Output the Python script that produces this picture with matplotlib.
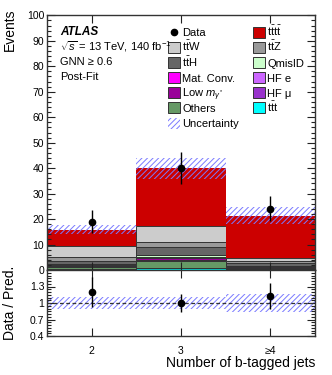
import matplotlib
matplotlib.use('Agg')
import matplotlib.pyplot as plt
import numpy as np
from matplotlib.patches import Rectangle
from matplotlib.ticker import MultipleLocator

plt.rcParams['font.family'] = ['Liberation Sans', 'DejaVu Sans']
plt.rcParams['mathtext.fontset'] = 'custom'
plt.rcParams['mathtext.rm'] = 'Liberation Sans'
plt.rcParams['mathtext.it'] = 'Liberation Sans:italic'
plt.rcParams['mathtext.bf'] = 'Liberation Sans:bold'
plt.rcParams['hatch.linewidth'] = 0.7

# bins: number of b-tagged jets
bins = [2, 3, 4]
bin_labels = ['2', '3', '≥4']

# stacked backgrounds, bottom -> top
ttt = [0.3, 0.8, 0.3]
others = [0.8, 2.6, 0.6]
hf_mu = [0.3, 0.5, 0.1]
low_m = [0.3, 0.7, 0.2]
hf_e = [0.1, 0.1, 0.05]
mat_conv = [0.3, 0.6, 0.2]
qmisid = [0.3, 0.6, 0.15]
tth = [1.3, 3.0, 1.0]
ttz = [1.5, 2.2, 1.1]
ttw = [4.2, 6.0, 1.0]
tttt = [6.5, 22.9, 16.6]

data = [19, 40, 24]
data_err = [4.4, 6.3, 4.9]
pred_unc = [1.6, 4.1, 3.3]

samples = [
    (ttt, '#00ffff', r'$\mathrm{t\bar{t}t}$'),
    (others, '#669966', 'Others'),
    (hf_mu, '#9933cc', 'HF μ'),
    (low_m, '#990099', r'Low $m_{\gamma^{*}}$'),
    (hf_e, '#cc66ff', 'HF e'),
    (mat_conv, '#ff00ff', 'Mat. Conv.'),
    (qmisid, '#ccffcc', 'QmisID'),
    (tth, '#666666', r'$\mathrm{t\bar{t}H}$'),
    (ttz, '#999999', r'$\mathrm{t\bar{t}Z}$'),
    (ttw, '#cccccc', r'$\mathrm{t\bar{t}W}$'),
    (tttt, '#cc0000', r'$\mathrm{t\bar{t}t\bar{t}}$'),
]
unc_color = '#7a7aff'

x = np.array(bins, dtype=float)
data = np.array(data, dtype=float)
data_err = np.array(data_err)
pred_unc = np.array(pred_unc)

fig = plt.figure(figsize=(3.32, 3.75), dpi=100)
ax = fig.add_axes([0.1416, 0.28, 0.807, 0.679])
rax = fig.add_axes([0.1416, 0.104, 0.807, 0.176])

bottom = np.zeros(3)
for i, (vals, col, lab) in enumerate(samples):
    v = np.array(vals)
    ax.bar(x, v, width=1.0, bottom=bottom, color=col, edgecolor='#333333',
           linewidth=0.0 if i == len(samples) - 1 else 0.7)
    bottom = bottom + v
pred = bottom

ax.bar(x, 2 * pred_unc, width=1.0, bottom=pred - pred_unc, color='none',
       edgecolor=unc_color, hatch='//////', linewidth=0)
ax.errorbar(x, data, yerr=data_err, fmt='o', color='black', ms=4.5,
            elinewidth=1.0, capsize=0, zorder=5)

ax.set_xlim(1.5, 4.5)
ax.set_ylim(0, 100)
ax.set_xticks(bins)
ax.set_xticklabels([])
ax.yaxis.set_major_locator(MultipleLocator(10))
ax.yaxis.set_minor_locator(MultipleLocator(2))

# legend drawn by hand so that the rows stay evenly spaced
lab = {s[2]: s[1] for s in samples}
names = [s[2] for s in samples]
col1 = ['Data', names[9], names[7], names[5], names[3], names[1], 'Uncertainty']
col2 = [names[10], names[8], names[6], names[4], names[2], names[0]]
y0, dy = 0.934, 0.0595
bw, bh = 0.045, 0.043
for cx, entries in ((0.4515, col1), (0.7687, col2)):
    for r, name in enumerate(entries):
        yc = y0 - r * dy
        if name == 'Data':
            ax.plot([cx + bw / 2], [yc], 'o', color='black', ms=4.5,
                    transform=ax.transAxes, clip_on=False)
        elif name == 'Uncertainty':
            ax.add_patch(Rectangle((cx, yc - bh / 2), bw, bh, transform=ax.transAxes,
                                   facecolor='none', edgecolor=unc_color,
                                   hatch='//////', linewidth=0))
        else:
            ax.add_patch(Rectangle((cx, yc - bh / 2), bw, bh, transform=ax.transAxes,
                                   facecolor=lab[name], edgecolor='#333333',
                                   linewidth=0.7))
        ax.text(cx + bw + 0.008, yc - 0.016, name, transform=ax.transAxes,
                fontsize=8, va='baseline', ha='left')

ax.text(0.048, 0.935, 'ATLAS', transform=ax.transAxes, fontsize=8.5,
        fontweight='bold', fontstyle='italic', va='center')
ax.text(0.048, 0.862, r'$\sqrt{s}$ = 13 TeV, 140 fb$^{-1}$', transform=ax.transAxes,
        fontsize=8, va='baseline')
ax.text(0.048, 0.817, 'GNN ≥ 0.6', transform=ax.transAxes, fontsize=8, va='center')
ax.text(0.048, 0.757, 'Post-Fit', transform=ax.transAxes, fontsize=8, va='center')

# ratio panel
ratio = data / pred
ratio_err = data_err / pred
rel_unc = pred_unc / pred
rax.bar(x, 2 * rel_unc, width=1.0, bottom=1 - rel_unc, color='none',
        edgecolor=unc_color, hatch='//////', linewidth=0)
rax.axhline(1.0, color='#333333', linestyle=(0, (3, 2)), linewidth=0.9)
rax.errorbar(x, ratio, yerr=ratio_err, fmt='o', color='black', ms=4.5,
             elinewidth=1.0, capsize=0, zorder=5)
rax.set_xlim(1.5, 4.5)
rax.set_ylim(0.4, 1.6)
rax.set_yticks([0.4, 0.7, 1.0, 1.3])
rax.set_yticklabels(['0.4', '0.7', '1', '1.3'])
rax.yaxis.set_minor_locator(MultipleLocator(0.05))
rax.set_xticks(bins)
rax.set_xticklabels(bin_labels)

for a in (ax, rax):
    a.tick_params(which='both', direction='in', top=True, right=True,
                  labelsize=7.5, width=0.8, color='#222222')
    a.tick_params(axis='y', which='major', length=6, pad=2)
    a.tick_params(axis='y', which='minor', length=3)
    a.tick_params(axis='x', which='major', length=6)
    for s in a.spines.values():
        s.set_linewidth(1.0)
        s.set_color('#333333')
rax.tick_params(axis='x', which='major', pad=7)

fig.text(0.030, 0.977, 'Events', rotation=90, ha='center', va='top', fontsize=10)
fig.text(0.030, 0.192, 'Data / Pred.', rotation=90, ha='center', va='center', fontsize=10)
fig.text(0.949, 0.022, 'Number of b-tagged jets', ha='right', va='baseline', fontsize=10)

fig.savefig('out.png', dpi=100)
